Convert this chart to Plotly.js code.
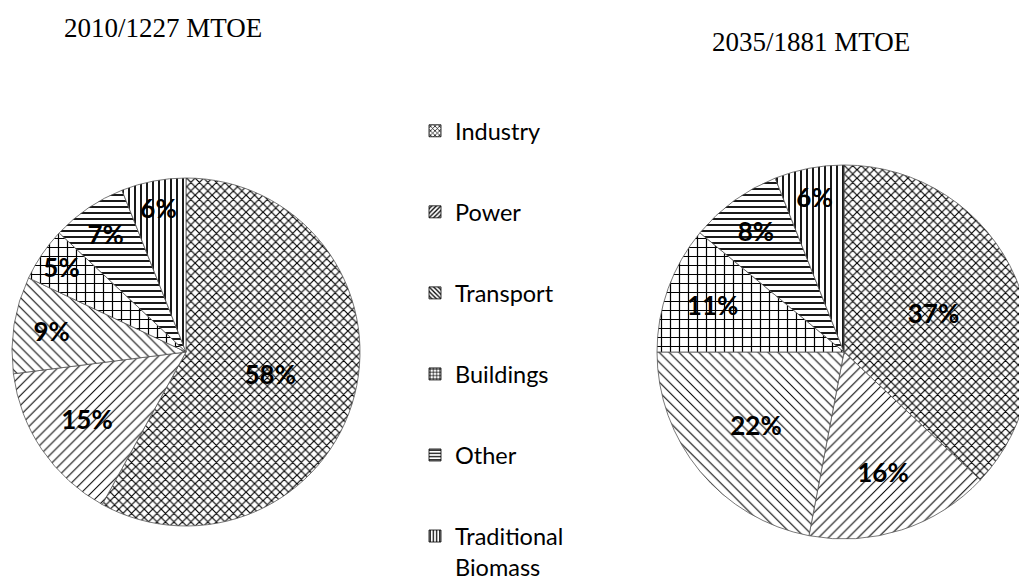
<!DOCTYPE html>
<html><head><meta charset="utf-8">
<script src="https://cdn.plot.ly/plotly-3.0.1.min.js"></script>
<style>html,body{margin:0;padding:0;overflow:hidden;background:#fff}#chart{width:1040px;height:660px}</style>
</head><body><div id="chart"></div>
<script>
const categories = ["Industry","Power","Transport","Buildings","Other","Traditional Biomass"];
const share2010 = [58,15,9,5,7,6];
const share2035 = [37,16,22,11,8,6];
const title2010 = "2010/1227 MTOE";
const title2035 = "2035/1881 MTOE";

const patternShapes = ["x","/","\\","+","-","|"];
const patternSizes = [6,7,7,9,6,6];
const patternSolidity = [0.35,0.15,0.15,0.25,0.3,0.3];

// figure is drawn taller than the window so the legend's last line is not pushed/scrolled
const W = 1040, H = 660;

function pie(vals, cx, cy, r){
  return {
    type:'pie', values: vals, labels: categories, sort:false, direction:'clockwise', rotation:0,
    domain:{x:[(cx-r)/W,(cx+r)/W], y:[(H-cy-r)/H,(H-cy+r)/H]},
    showlegend:false, textposition:'inside', insidetextorientation:'horizontal',
    texttemplate:'%{value}%',
    textfont:{family:'Lato', size:26, color:'#000', weight:'bold'},
    marker:{colors: categories.map(()=>'#fff'), line:{color:'#555', width:0.8},
      pattern:{shape: patternShapes, size: patternSizes, solidity: patternSolidity,
               fgcolor:'#000', bgcolor:'#fff', fillmode:'replace'}},
    hoverinfo:'label+percent'
  };
}

const legendTraces = categories.map((c,i)=>({
  type:'bar', x:[null], y:[null], name: c.replace(' ','<br>'), legendgroup:'g'+i, showlegend:true,
  marker:{color:'#fff', line:{color:'#000',width:0.8},
    pattern:{shape:patternShapes[i], size:4, solidity:0.4, fgcolor:'#000', bgcolor:'#fff'}},
  hoverinfo:'skip'
}));

const data = [pie(share2010,186,352,174), pie(share2035,844,352,187)].concat(legendTraces);

const layout = {
  width: W, height: H, margin:{l:0,r:0,t:0,b:0},
  paper_bgcolor:'#fff', plot_bgcolor:'rgba(0,0,0,0)',
  xaxis:{visible:false, domain:[0.45,0.46]}, yaxis:{visible:false, domain:[0,0.01]},
  uniformtext:{mode:'show', minsize:26},
  showlegend:true,
  legend:{x: 415/W, y: 1-109/H, xanchor:'left', yanchor:'top', maxheight:1000,
    font:{family:'Lato', size:23.5, color:'#000'}, tracegroupgap: 47.5, itemwidth:30,
    valign:'top', bgcolor:'rgba(0,0,0,0)'},
  annotations:[
    {text:title2010, xref:'paper', yref:'paper', x:62/W, y:1-28/H, xanchor:'left', yanchor:'middle',
     showarrow:false, font:{family:'Liberation Serif', size:27, color:'#000'}},
    {text:title2035, xref:'paper', yref:'paper', x:710/W, y:1-42/H, xanchor:'left', yanchor:'middle',
     showarrow:false, font:{family:'Liberation Serif', size:27, color:'#000'}}
  ]
};

Plotly.newPlot('chart', data, layout, {displayModeBar:false, staticPlot:true});
</script>
</body></html>
